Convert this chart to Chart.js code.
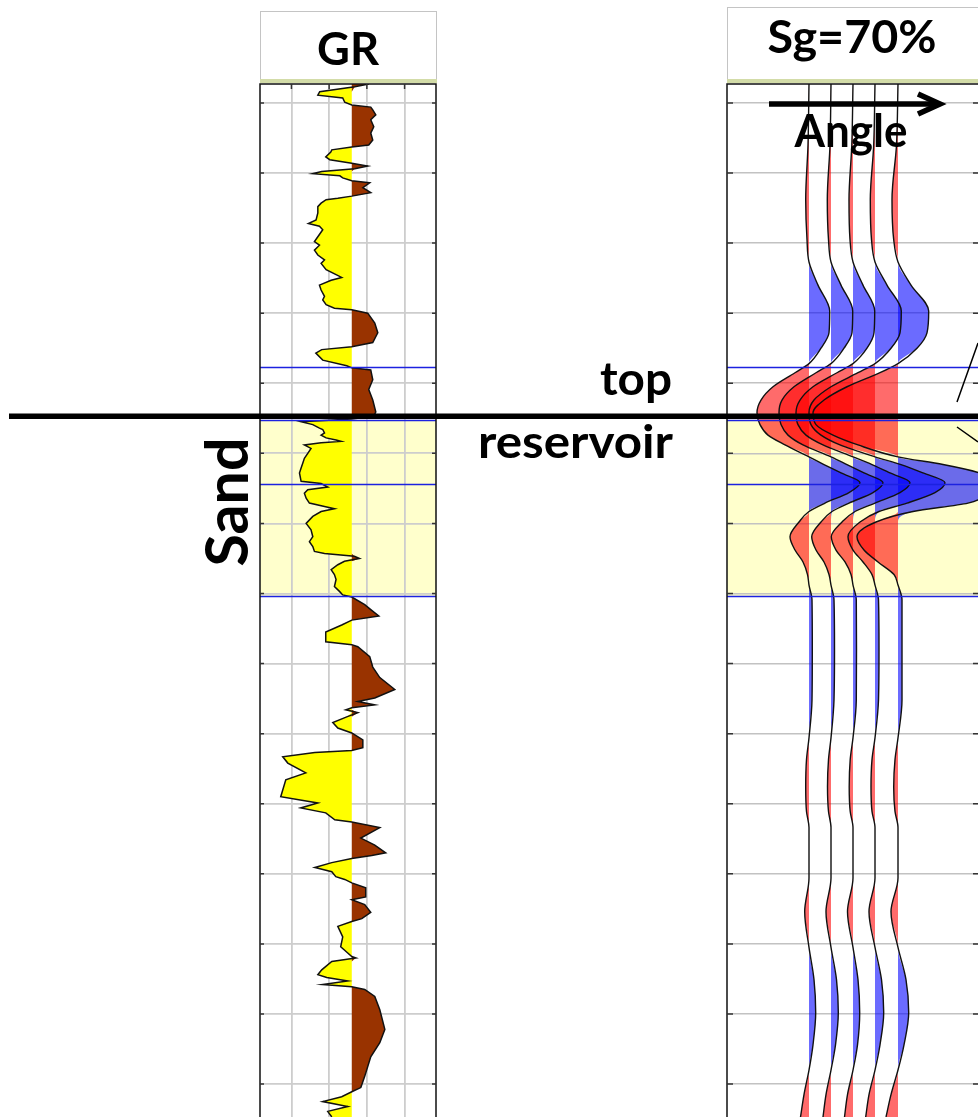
<!DOCTYPE html>
<html>
<head>
<meta charset="utf-8">
<title>GR log and AVO synthetic</title>
<script src="https://cdn.jsdelivr.net/npm/chart.js@4.4.1/dist/chart.umd.min.js"></script>
<style>
  html, body { margin: 0; padding: 0; background: #fff; overflow: hidden; }
  #page { position: relative; width: 978px; height: 1117px; overflow: hidden; }
  canvas { position: absolute; }
  #grCanvas { left: 250px; top: 80px; }
  #seisCanvas { left: 717px; top: 80px; }
  #overlay { left: 0; top: 0; pointer-events: none; }
</style>
</head>
<body>
<div id="page">
  <canvas id="grCanvas" width="200" height="1037"></canvas>
  <canvas id="seisCanvas" width="280" height="1037"></canvas>
  <canvas id="overlay" width="978" height="1117"></canvas>
</div>
<script>
// ---- data ----
// time axis (ms), shared by both tracks
const depthMin = 997.3;
const depthMax = 1144.7;
const depthTicks = [1000, 1010, 1020, 1030, 1040, 1050, 1060, 1070, 1080, 1090, 1100, 1110, 1120, 1130, 1140];

// horizons (blue lines) and the sand interval
const markerTimes = [1037.7, 1045.2, 1054.4, 1070.4];
const sandTop = 1045.2;
const sandBase = 1070.4;

// gamma ray log
const grTicks = [30, 60, 90, 120];
const grCutoff = 78;
const grDepth = [997.3, 997.7, 998.4, 998.9, 999.3, 999.9, 1000.3, 1000.6, 1001.0, 1001.7,
  1002.4, 1003.4, 1004.3, 1005.3, 1006.0, 1006.3, 1006.7, 1007.0, 1007.7, 1008.1,
  1008.6, 1009.0, 1009.4, 1009.8, 1010.1, 1010.4, 1010.7, 1011.1, 1011.4, 1012.1,
  1012.8, 1013.3, 1013.6,
  1013.8, 1014.3, 1014.8, 1015.7, 1016.7, 1017.2, 1017.6, 1018.1, 1019.1, 1019.8,
  1020.3, 1021.0, 1021.7, 1022.4, 1022.9, 1023.8, 1024.5, 1024.9, 1025.3, 1026.0,
  1026.7, 1027.6, 1028.1, 1028.8, 1029.3,
  1029.5, 1030.0, 1031.4, 1032.8, 1034.2, 1034.8, 1035.2, 1035.7, 1036.7, 1037.5,
  1037.8, 1038.1, 1039.5, 1040.9, 1042.4, 1044.1, 1044.7, 1045.1,
  1045.5, 1045.9, 1046.4, 1046.6, 1047.1, 1047.4, 1047.8, 1048.1, 1048.3, 1048.5,
  1048.8, 1049.3, 1050.0, 1050.7, 1051.4, 1052.1, 1052.8, 1054.0, 1054.3, 1054.8,
  1055.2, 1055.7, 1056.4, 1057.1, 1057.6, 1057.9, 1058.3, 1059.0, 1060.0, 1060.9,
  1061.9, 1062.6, 1063.3, 1064.0, 1064.3, 1064.7, 1065.0, 1065.4, 1065.9, 1066.6,
  1067.3, 1068.0, 1069.0, 1069.7, 1070.2,
  1070.5, 1071.6, 1072.3, 1073.2, 1073.8, 1074.5, 1075.5, 1076.9, 1077.3, 1077.6,
  1079.0, 1080.5, 1082.0, 1083.7, 1084.9, 1085.4, 1085.9, 1086.3, 1086.6, 1087.0,
  1087.6, 1088.4, 1089.2, 1089.9, 1090.9, 1092.0, 1092.4, 1092.7, 1093.3, 1094.2,
  1095.6, 1096.6, 1099.0, 1099.9, 1100.6, 1101.3, 1102.3, 1102.6, 1103.4, 1104.9,
  1105.9, 1107.0, 1107.4, 1107.8, 1108.4, 1109.1, 1109.7, 1110.4, 1110.8, 1111.3,
  1112.0, 1113.3, 1113.7, 1114.4, 1115.5, 1116.4, 1116.8, 1117.5, 1119.0, 1120.4,
  1121.3, 1121.8, 1122.0, 1122.5, 1123.7, 1124.4, 1124.8, 1125.3, 1125.8, 1126.1,
  1126.5, 1127.5, 1129.4, 1132.2, 1134.1, 1136.1, 1138.9, 1140.5, 1141.1, 1141.8,
  1142.5, 1143.2, 1143.9, 1144.7];
const grApi = [91.5, 80.4, 52.5, 51.0, 70.8, 72.4, 78, 93.1, 94.7, 97.1,
  93.1, 95.5, 93.1, 94.7, 91.5, 78, 62.1, 61.3, 57.3, 60.5,
  78, 90.7, 80.4, 54.1, 47.0, 68.5, 70.8, 78, 92.3, 86.8,
  93.1, 78, 66.9,
  57.6, 53.6, 51.0, 51.0, 49.6, 43.5, 52.3, 54.9, 51.0, 48.3,
  52.3, 48.3, 51.0, 56.3, 53.6, 57.6, 65.5, 70.0, 61.6, 52.3,
  53.6, 56.3, 54.9, 57.6, 64.2,
  78, 90.7, 96.3, 98.7, 94.7, 78, 54.1, 49.4, 54.9, 74.0,
  78, 93.1, 94.7, 91.5, 94.7, 97.1, 95.5, 78,
  37.7, 47.0, 52.3, 54.9, 56.3, 53.6, 57.6, 65.5, 69.5, 53.6,
  40.3, 45.6, 43.0, 40.3, 39.0, 37.7, 36.4, 37.7, 53.6, 58.9,
  43.0, 40.3, 41.7, 44.3, 56.3, 64.2, 53.6, 47.0, 41.7, 45.6,
  47.0, 44.3, 47.0, 48.3, 56.3, 80.1, 84.1, 72.2, 66.9, 61.6,
  64.2, 65.5, 64.2, 68.2, 70.8,
  78, 88.3, 93.1, 99.5, 78, 70.0, 57.3, 57.3, 78, 82.8,
  92.3, 94.7, 100.3, 112.2, 96.3, 82.8, 96.3, 78, 73.2, 82.8,
  74.0, 62.9, 66.9, 78, 86.8, 86.8, 78, 48.6, 23.1, 27.1,
  41.4, 25.5, 21.5, 51.0, 37.4, 57.3, 64.5, 78, 100.3, 85.2,
  96.3, 105.0, 93.9, 78, 62.1, 48.6, 62.1, 65.3, 72.4, 78,
  89.1, 89.1, 78, 88.3, 93.1, 86.0, 78, 66.9, 70.8, 69.2,
  74.8, 78, 81.2, 62.1, 54.1, 51.0, 58.1, 74.8, 54.9, 78,
  88.3, 96.3, 100.3, 104.3, 100.3, 93.1, 88.3, 85.2, 78, 70.0,
  54.9, 74.8, 58.9, 62.1];

// synthetic gathers: 5 angle traces, amplitude in display units
const seisMin = -82;
const seisMax = 170;
const traceOffsets = [0, 22, 44, 66, 89];
const seisTime = [997.3, 1006.0, 1013.8, 1019.5, 1022.7, 1026.0, 1029.7, 1032.8, 1035.0, 1037.2,
  1038.5, 1040.5, 1042.4, 1044.2, 1045.9, 1047.4, 1048.8, 1050.5, 1051.6, 1052.8,
  1054.2, 1055.6, 1057.1, 1058.3, 1059.8, 1061.9, 1063.8, 1065.5, 1067.3, 1068.8,
  1070.9, 1078.0, 1085.2, 1090.6, 1093.7, 1097.6, 1101.1, 1103.4, 1110.6, 1115.4,
  1120.5, 1125.1, 1129.8, 1134.4, 1138.0, 1141.5, 1144.7];
const trace1 = [0, -1, -3.3, -2, 0, 9, 20.7, 20, 12, 0,
  -14, -36, -48, -52, -49, -41, -24, 0, 15, 32,
  51, 40, 16, 0, -10, -19, -14, -6, -1.5, 0,
  3, 3.3, 3, 0, -2.5, -3.3, -2.5, 0, 0, -4.3,
  0, 5, 6.7, 4, 0, -5, -8.5];
const trace2 = [0, -1, -3.7, -2.5, 0, 10, 21.7, 21, 13, 0,
  -15, -37, -49, -52, -50, -43, -28, 0, 16, 33,
  52, 42, 18, 1, -10, -19.3, -15, -7, -2, 0,
  3, 3.5, 3, 0, -2.5, -3.5, -2.5, 0, 0, -5,
  0, 5.5, 7.3, 4.5, 0, -5, -8];
const trace3 = [0, -1.2, -4, -3, 0, 10, 21.7, 21, 14, 0,
  -16, -40, -53, -57, -55, -47, -30, 0, 19, 37,
  57, 47, 22, 2, -11, -21.7, -17, -8, -2, 0,
  3.3, 3.5, 3.3, 0, -2.8, -3.8, -2.8, 0, 0, -5.5,
  0, 5, 6.7, 4.5, 0, -5.5, -8.5];
const trace4 = [0, -1.3, -4.7, -3.5, 0, 12, 26.3, 25, 16, 0,
  -17, -44, -61, -66, -64, -54, -35, 0, 26, 48,
  70, 60, 32, 4, -15, -27, -22, -12, -3, 0,
  3.5, 4, 3.5, 0, -3, -4, -3, 0, 0, -6,
  0, 6.5, 8.7, 5, 0, -6, -9.3];
const trace5 = [0, -1.5, -6, -4.3, 0, 13, 30.7, 29, 19, 0,
  -18, -51, -74, -85, -82, -65, -40, 0, 45, 82,
  105, 92, 70, 15, -22, -41, -34, -20, -4, 0,
  4, 4, 4, 0, -3, -4.3, -3, 0, 0, -7,
  0, 8, 10.7, 6, 0, -7, -12];
const traces = [trace1, trace2, trace3, trace4, trace5];

// ---- track decoration plugin (sand band, horizons, frame, ticks) ----
const trackFrame = {
  id: 'trackFrame',
  beforeDraw(chart) {
    const {ctx, chartArea: a, scales: {y}} = chart;
    ctx.save();
    ctx.fillStyle = '#ffffff';
    ctx.fillRect(a.left, a.top, a.right - a.left, a.bottom - a.top);
    const y0 = y.getPixelForValue(sandTop);
    const y1 = y.getPixelForValue(sandBase);
    ctx.fillStyle = '#ffffcc';
    ctx.fillRect(a.left, y0, a.right - a.left, y1 - y0);
    ctx.restore();
  },
  afterDatasetsDraw(chart) {
    const {ctx, chartArea: a, scales: {y}} = chart;
    ctx.save();
    ctx.strokeStyle = '#1c22e0';
    ctx.lineWidth = 1.5;
    markerTimes.forEach(t => {
      const py = Math.round(y.getPixelForValue(t)) + 0.5;
      ctx.beginPath();
      ctx.moveTo(a.left, py);
      ctx.lineTo(a.right, py);
      ctx.stroke();
    });
    ctx.restore();
  },
  afterDraw(chart, args, opts) {
    const {ctx, chartArea: a, scales: {x, y}} = chart;
    ctx.save();
    ctx.strokeStyle = '#111';
    ctx.lineWidth = 1.5;
    ctx.beginPath();
    ctx.moveTo(a.left, a.bottom);
    ctx.lineTo(a.left, a.top);
    ctx.lineTo(a.right, a.top);
    if (opts.rightBorder) ctx.lineTo(a.right, a.bottom);
    ctx.stroke();
    ctx.strokeStyle = '#333';
    ctx.beginPath();
    depthTicks.forEach(t => {
      const py = y.getPixelForValue(t);
      ctx.moveTo(a.left, py);
      ctx.lineTo(a.left + opts.tickLen, py);
      ctx.moveTo(a.right - opts.tickLen, py);
      ctx.lineTo(a.right, py);
    });
    if (opts.topTicks) {
      opts.topTicks.forEach(v => {
        const px = x.getPixelForValue(v);
        ctx.moveTo(px, a.top);
        ctx.lineTo(px, a.top + 5);
      });
    }
    ctx.stroke();
    ctx.restore();
  }
};

function depthAxis(gridColor, gridWidth) {
  return {
    type: 'linear',
    reverse: true,
    min: depthMin,
    max: depthMax,
    afterBuildTicks: s => { s.ticks = depthTicks.map(v => ({ value: v })); },
    ticks: { display: false },
    grid: { color: gridColor, lineWidth: gridWidth, drawTicks: false },
    border: { display: false }
  };
}

const baseOptions = {
  responsive: false,
  animation: false,
  devicePixelRatio: 1,
  indexAxis: 'y',
  events: [],
  elements: { point: { radius: 0 } }
};

// ---- GR track ----
const grLine = grDepth.map((d, i) => ({ x: grApi[i], y: d }));
const grShale = grDepth.map((d, i) => ({ x: Math.max(grApi[i], grCutoff), y: d }));
const grSand = grDepth.map((d, i) => ({ x: Math.min(grApi[i], grCutoff), y: d }));

new Chart(document.getElementById('grCanvas'), {
  type: 'line',
  data: {
    datasets: [
      { data: grLine, borderColor: '#111', borderWidth: 1.5, fill: false, tension: 0, order: 0 },
      { data: grShale, borderColor: 'rgba(0,0,0,0)', borderWidth: 0, backgroundColor: '#993300',
        fill: { value: grCutoff }, tension: 0, order: 1 },
      { data: grSand, borderColor: 'rgba(0,0,0,0)', borderWidth: 0, backgroundColor: '#ffff00',
        fill: { value: grCutoff }, tension: 0, order: 1 }
    ]
  },
  options: Object.assign({}, baseOptions, {
    layout: { padding: { left: 10, right: 14, top: 4, bottom: 0 } },
    scales: {
      x: {
        type: 'linear', min: 5, max: 145,
        afterBuildTicks: s => { s.ticks = grTicks.map(v => ({ value: v })); },
        ticks: { display: false },
        grid: { color: '#cdcdcd', lineWidth: 1.8, drawTicks: false },
        border: { display: false }
      },
      y: depthAxis('#cdcdcd', 1.8)
    },
    plugins: {
      legend: { display: false },
      tooltip: { enabled: false },
      trackFrame: { rightBorder: true, tickLen: 4, topTicks: grTicks }
    }
  }),
  plugins: [trackFrame]
});

// ---- synthetic gather track ----
const seisSets = [];
traces.forEach((amp, k) => {
  const off = traceOffsets[k];
  seisSets.push({
    data: seisTime.map((t, i) => ({ x: off + amp[i], y: t })),
    borderColor: '#111', borderWidth: 1.4, fill: false,
    cubicInterpolationMode: 'monotone', order: 0
  });
  seisSets.push({
    data: seisTime.map((t, i) => ({ x: off + Math.max(amp[i], 0), y: t })),
    borderColor: 'rgba(0,0,0,0)', borderWidth: 0, backgroundColor: 'rgba(0,0,255,0.58)',
    fill: { value: off }, cubicInterpolationMode: 'monotone', order: 1
  });
  seisSets.push({
    data: seisTime.map((t, i) => ({ x: off + Math.min(amp[i], 0), y: t })),
    borderColor: 'rgba(0,0,0,0)', borderWidth: 0, backgroundColor: 'rgba(255,0,0,0.58)',
    fill: { value: off }, cubicInterpolationMode: 'monotone', order: 1
  });
});

new Chart(document.getElementById('seisCanvas'), {
  type: 'line',
  data: { datasets: seisSets },
  options: Object.assign({}, baseOptions, {
    layout: { padding: { left: 10, right: 18, top: 4, bottom: 0 } },
    scales: {
      x: {
        type: 'linear', min: seisMin, max: seisMax,
        ticks: { display: false },
        grid: { display: false, drawTicks: false },
        border: { display: false }
      },
      y: depthAxis('#c2c2c2', 1.5)
    },
    plugins: {
      legend: { display: false },
      tooltip: { enabled: false },
      trackFrame: { rightBorder: false, tickLen: 6 }
    }
  }),
  plugins: [trackFrame]
});

// ---- headers, labels and the reservoir-top line ----
const ov = document.getElementById('overlay').getContext('2d');

function header(x, y, w, h) {
  ov.save();
  ov.fillStyle = '#ffffff';
  ov.fillRect(x, y, w, h);
  ov.strokeStyle = '#c4c4c4';
  ov.lineWidth = 1;
  ov.strokeRect(x + 0.5, y + 0.5, w - 1, h - 1);
  ov.fillStyle = '#d3dca8';
  ov.fillRect(x, y + h - 4, w, 4);
  ov.restore();
}

function label(text, x, y, size, width, align, angle) {
  ov.save();
  ov.font = 'bold ' + size + 'px Lato, "Open Sans", sans-serif';
  const w = ov.measureText(text).width;
  ov.translate(x, y);
  if (angle) ov.rotate(angle);
  ov.scale(width / w, 1);
  ov.textAlign = align;
  ov.textBaseline = 'alphabetic';
  ov.fillStyle = '#000';
  ov.fillText(text, 0, 0);
  ov.restore();
}

header(260, 11, 177, 72);
header(727, 7, 260, 76);

label('GR', 348, 65, 45, 62, 'center');
label('Sg=70%', 852, 53, 45, 169, 'center');

// angle arrow
ov.save();
ov.strokeStyle = '#000';
ov.lineWidth = 5.5;
ov.beginPath();
ov.moveTo(769, 104);
ov.lineTo(936, 104);
ov.stroke();
ov.lineJoin = 'miter';
ov.beginPath();
ov.moveTo(918, 94);
ov.lineTo(940, 104);
ov.lineTo(918, 114);
ov.stroke();
ov.restore();
label('Angle', 851, 147, 45, 113, 'center');

label('top', 672, 395, 45, 72, 'right');
label('reservoir', 673, 458, 45, 195, 'right');
label('Sand', 248, 502, 60, 129, 'center', -Math.PI / 2);

// thick line marking the reservoir top, across the figure
ov.save();
ov.fillStyle = '#000';
ov.fillRect(9, 413.5, 969, 5.5);
// pointer lines leaving the right edge
ov.strokeStyle = '#000';
ov.lineWidth = 1.5;
ov.beginPath();
ov.moveTo(978, 343);
ov.lineTo(957, 402);
ov.moveTo(957, 427);
ov.lineTo(978, 442);
ov.stroke();
ov.restore();
</script>
</body>
</html>
